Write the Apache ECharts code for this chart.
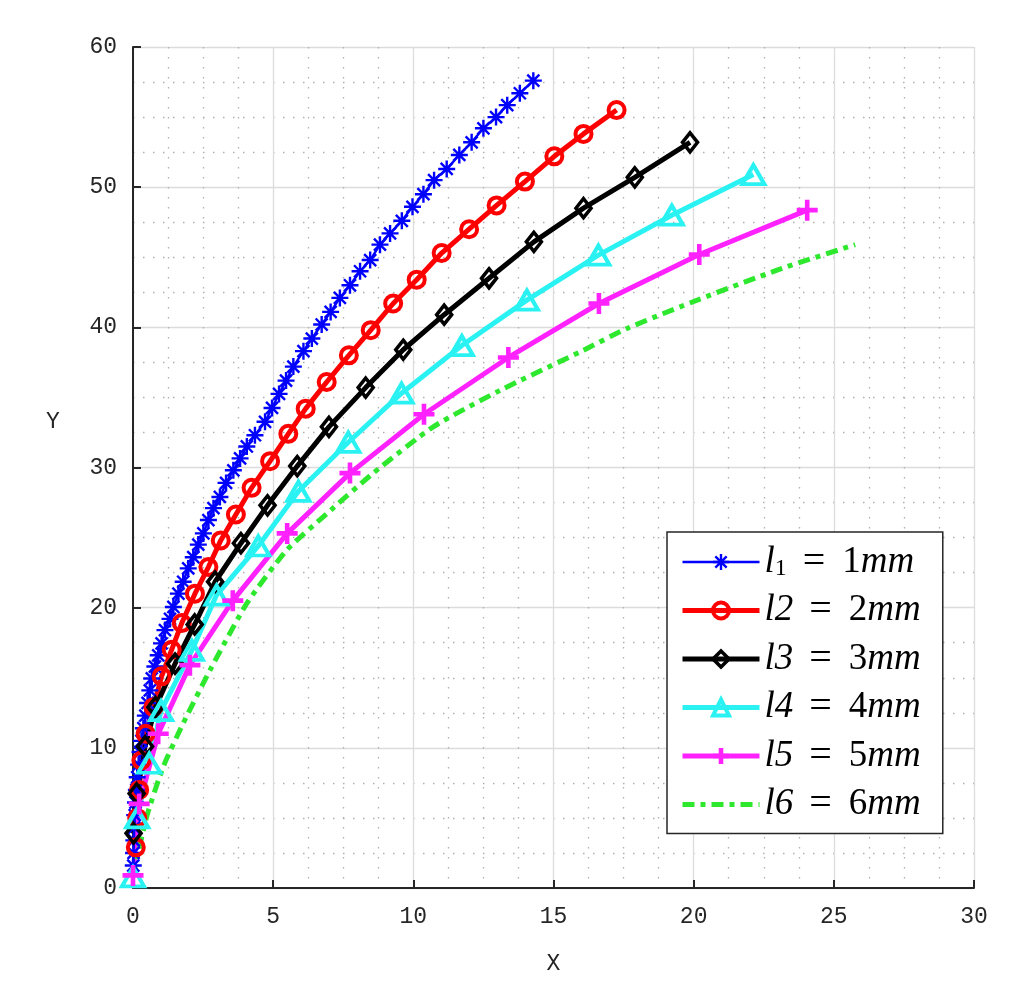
<!DOCTYPE html>
<html>
<head>
<meta charset="utf-8">
<script src="https://cdn.jsdelivr.net/npm/echarts@6/dist/echarts.min.js"></script>
<style>
html,body{margin:0;padding:0;background:#fff;}
#c{width:1024px;height:995px;}
</style>
</head>
<body>
<div id="c"></div>
<script>
// ---- data ----
var xTicks = [0, 5, 10, 15, 20, 25, 30];
var yTicks = [0, 10, 20, 30, 40, 50, 60];
var seriesNames = ['l1', 'l2', 'l3', 'l4', 'l5', 'l6'];
var legendLabels = [
  ['l', '1', '1'],
  ['l2', '', '2'],
  ['l3', '', '3'],
  ['l4', '', '4'],
  ['l5', '', '5'],
  ['l6', '', '6']
];

var l1X = [0.01,0.02,0.03,0.04,0.06,0.09,0.12,0.15,0.2,0.25,0.3,0.37,0.44,0.52,0.6,0.67,0.78,0.9,1.02,1.14,1.32,1.44,1.62,1.79,1.97,2.15,2.33,2.51,2.69,2.87,3.10,3.32,3.58,3.82,4.06,4.35,4.71,4.96,5.21,5.46,5.72,6.08,6.38,6.73,7.05,7.38,7.74,8.1,8.46,8.81,9.17,9.59,9.97,10.36,10.74,11.19,11.64,12.08,12.5,12.95,13.35,13.8,14.28];
var l1Y = [1.6,2.5,3.4,4.3,5.2,6.1,7.0,7.9,8.8,9.7,10.5,11.4,12.3,13.2,14.1,14.95,15.8,16.6,17.45,18.4,19.2,20.05,21.0,21.85,22.8,23.6,24.5,25.3,26.25,27.1,27.9,28.9,29.8,30.65,31.5,32.3,33.26,34.25,35.25,36.2,37.2,38.3,39.2,40.2,41.1,42.1,43.0,44.0,44.8,45.9,46.7,47.6,48.6,49.5,50.5,51.3,52.3,53.2,54.2,55.0,55.85,56.7,57.6];

var l2X = [0.1,0.15,0.22,0.3,0.45,0.73,1.02,1.38,1.74,2.21,2.69,3.13,3.67,4.23,4.89,5.54,6.16,6.91,7.7,8.48,9.28,10.12,11.01,11.99,12.97,13.98,15.03,16.07,17.25];
var l2Y = [2.9,5.0,7.0,9.1,11.0,12.9,15.1,17.0,18.9,21.0,22.9,24.8,26.65,28.55,30.45,32.4,34.2,36.1,38.0,39.8,41.7,43.4,45.3,47.0,48.7,50.4,52.2,53.8,55.5];

var l3X = [0.02,0.13,0.43,0.8,1.5,2.2,2.93,3.85,4.8,5.86,6.99,8.3,9.64,11.1,12.7,14.3,16.07,17.9,19.87];
var l3Y = [3.9,6.75,10.1,12.9,16.0,18.8,21.85,24.6,27.3,30.1,32.9,35.7,38.4,40.9,43.5,46.1,48.5,50.7,53.2];

var l4X = [0.0,0.15,0.58,1.0,2.1,2.98,4.47,5.9,7.68,9.58,11.73,14.05,16.6,19.22,22.13];
var l4Y = [0.8,5.0,8.9,12.65,16.95,20.9,24.4,28.3,31.8,35.3,38.7,41.94,45.15,48.0,50.9];

var l5X = [0.0,0.22,0.9,2.03,3.56,5.5,7.74,10.38,13.39,16.62,20.2,24.05];
var l5Y = [0.9,6.0,11.0,15.9,20.5,25.3,29.6,33.8,37.85,41.7,45.2,48.36];

var l6X = [0.0,0.49,1.08,1.79,2.75,4.06,5.48,6.91,8.57,10.71,13.09,15.95,17.6,20.2,23.0,25.76];
var l6Y = [0.8,5.1,8.65,11.75,15.55,20.3,24.1,26.7,29.6,32.9,35.5,38.25,39.9,42.0,44.1,45.9];

function zip(xs, ys) { return xs.map(function (x, i) { return [x, ys[i]]; }); }

var AST = 'path://M0,-10L0,10M-10,0L10,0M-7.07,-7.07L7.07,7.07M-7.07,7.07L7.07,-7.07';
var PLUS = 'path://M0,-10L0,10M-10,0L10,0';
var TR = 'rgba(0,0,0,0)';

var monoFont = 'Liberation Mono';
var axisCol = '#262626';

var chart = echarts.init(document.getElementById('c'), null, {renderer: 'canvas'});

function axisCommon(margin) {
  return {
    type: 'value',
    axisLine: {show: true, onZero: false, lineStyle: {color: axisCol, width: 2}},
    axisTick: {show: true, inside: true, length: 8, lineStyle: {color: axisCol, width: 2}},
    minorTick: {show: false, splitNumber: 4},
    splitLine: {show: true, lineStyle: {color: '#dcdcdc', width: 1.3}},
    minorSplitLine: {show: true, lineStyle: {color: '#b0b0b0', width: 1.3, type: [1.5, 8.5]}},
    axisLabel: {color: axisCol, fontFamily: monoFont, fontSize: 23, margin: margin},
    nameTextStyle: {color: axisCol, fontFamily: monoFont, fontSize: 23}
  };
}

var xAxis = axisCommon(17);
xAxis.min = xTicks[0]; xAxis.max = xTicks[xTicks.length - 1]; xAxis.interval = xTicks[1] - xTicks[0];
xAxis.name = 'X'; xAxis.nameLocation = 'middle'; xAxis.nameGap = 64;

var yAxis = axisCommon(16);
yAxis.min = yTicks[0]; yAxis.max = yTicks[yTicks.length - 1]; yAxis.interval = yTicks[1] - yTicks[0];

var serif = 'Liberation Serif';
var option = {
  animation: false,
  backgroundColor: '#fff',
  grid: {left: 133, top: 47, right: 50, bottom: 107, containLabel: false},
  xAxis: xAxis,
  yAxis: yAxis,
  graphic: [{
    type: 'text', left: 46, top: 410, silent: true,
    style: {text: 'Y', fill: axisCol, font: '23px "Liberation Mono"'}
  }],
  legend: {
    orient: 'vertical', left: 667, top: 532,
    padding: [10, 22, 9, 13],
    itemWidth: 77, itemHeight: 20, itemGap: 8.5,
    backgroundColor: '#fff', borderColor: axisCol, borderWidth: 1.5, borderRadius: 0,
    selectedMode: false,
    lineStyle: {width: 'inherit'},
    itemStyle: {borderWidth: 'inherit'},
    data: seriesNames,
    textStyle: {
      rich: {
        i: {fontFamily: serif, fontStyle: 'italic', fontSize: 37, lineHeight: 38, color: '#000'},
        n: {fontFamily: serif, fontSize: 37, lineHeight: 38, color: '#000'},
        e: {fontFamily: serif, fontSize: 40, lineHeight: 38, color: '#000', padding: [0, 17, 0, 16]},
        s: {fontFamily: serif, fontSize: 24, lineHeight: 38, verticalAlign: 'bottom', color: '#000'}
      }
    },
    formatter: function (name) {
      var k = seriesNames.indexOf(name);
      var L = legendLabels[k];
      var s = '{i|' + L[0] + '}';
      if (L[1]) s += '{s|' + L[1] + '}';
      s += '{e|=}{n|' + L[2] + '}{i|mm}';
      return s;
    }
  },
  series: [
    {name: 'l1', type: 'line', data: zip(l1X, l1Y), clip: false,
     symbol: AST, symbolSize: 17, symbolKeepAspect: true,
     lineStyle: {color: '#0000ff', width: 2.4},
     itemStyle: {color: '#0000ff', borderColor: '#0000ff', borderWidth: 2.4}},
    {name: 'l2', type: 'line', data: zip(l2X, l2Y), clip: false,
     symbol: 'circle', symbolSize: 16,
     lineStyle: {color: '#ff0000', width: 5},
     itemStyle: {color: TR, borderColor: '#ff0000', borderWidth: 4}},
    {name: 'l3', type: 'line', data: zip(l3X, l3Y), clip: false,
     symbol: 'diamond', symbolSize: [15, 19],
     lineStyle: {color: '#000000', width: 5},
     itemStyle: {color: TR, borderColor: '#000000', borderWidth: 3.6}},
    {name: 'l4', type: 'line', data: zip(l4X, l4Y), clip: false,
     symbol: 'triangle', symbolSize: [22, 19],
     lineStyle: {color: '#2af2f2', width: 5},
     itemStyle: {color: TR, borderColor: '#2af2f2', borderWidth: 4}},
    {name: 'l5', type: 'line', data: zip(l5X, l5Y), clip: false,
     symbol: PLUS, symbolSize: 21, symbolKeepAspect: true,
     lineStyle: {color: '#ff22ff', width: 5},
     itemStyle: {color: '#ff22ff', borderColor: '#ff22ff', borderWidth: 4.6}},
    {name: 'l6', type: 'line', data: zip(l6X, l6Y), clip: false,
     symbol: 'circle', showSymbol: false, smooth: 0.2,
     lineStyle: {color: '#2ee82e', width: 5, type: [12, 6, 5, 6]},
     itemStyle: {color: TR, borderColor: TR, borderWidth: 0}}
  ]
};
chart.setOption(option);
</script>
</body>
</html>
